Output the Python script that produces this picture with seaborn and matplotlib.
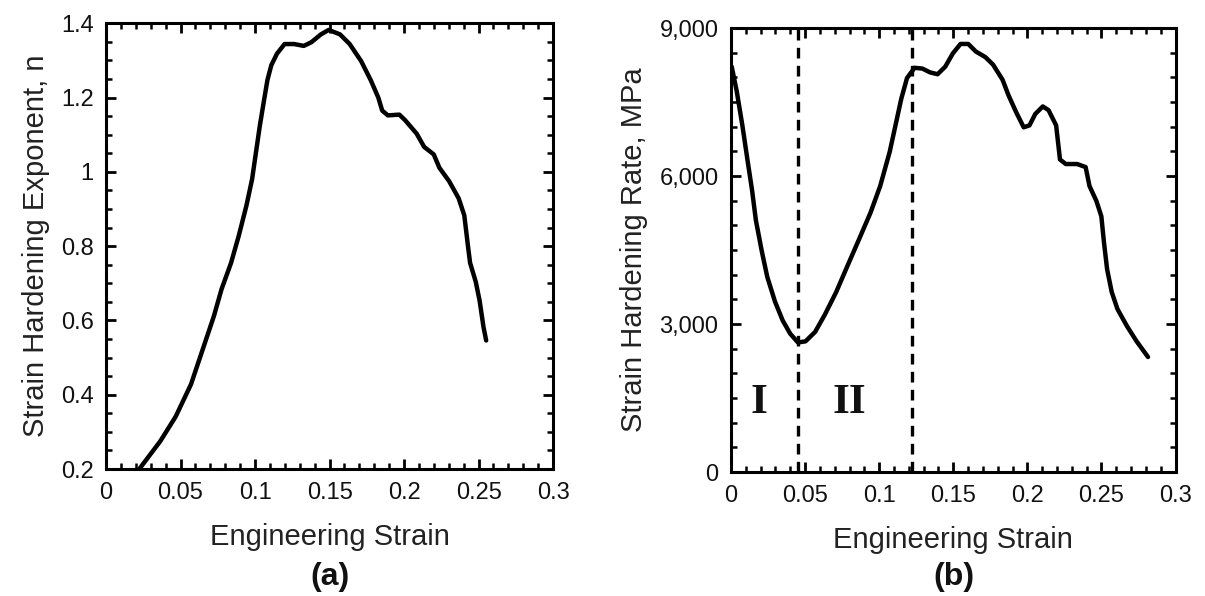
import matplotlib
matplotlib.use("Agg")
import matplotlib.pyplot as plt
from matplotlib.ticker import MultipleLocator
import seaborn as sns
import pandas as pd

# ---- data (a): strain hardening exponent ----
strain_a = [0.0223, 0.0364, 0.0467, 0.057, 0.0647, 0.0724, 0.0775, 0.0839, 0.089, 0.0942,
            0.098, 0.1006, 0.1032, 0.1057, 0.1083, 0.1109, 0.1147, 0.1198, 0.1263, 0.1327,
            0.1378, 0.1442, 0.1494, 0.157, 0.1635, 0.1712, 0.1776, 0.1827, 0.1853, 0.1891,
            0.1968, 0.2007, 0.2084, 0.2135, 0.2199, 0.2237, 0.2302, 0.2366, 0.2404, 0.243,
            0.2443, 0.2481, 0.2507, 0.2533, 0.2551]
n_exp = [0.2, 0.275, 0.341, 0.428, 0.52, 0.612, 0.684, 0.755, 0.827, 0.909,
         0.98, 1.052, 1.124, 1.185, 1.247, 1.287, 1.318, 1.344, 1.344, 1.339,
         1.349, 1.37, 1.382, 1.37, 1.344, 1.298, 1.247, 1.2, 1.165, 1.152,
         1.154, 1.139, 1.103, 1.067, 1.047, 1.011, 0.975, 0.929, 0.883, 0.796,
         0.755, 0.704, 0.653, 0.582, 0.546]

# ---- data (b): strain hardening rate ----
strain_b = [0.0005, 0.0039, 0.0077, 0.0111, 0.0142, 0.0168, 0.0207, 0.0245, 0.0297, 0.0349,
            0.04, 0.0452, 0.0503, 0.0568, 0.0633, 0.071, 0.0787, 0.0865, 0.0942, 0.1007,
            0.1071, 0.111, 0.1149, 0.1188, 0.1239, 0.1291, 0.1343, 0.1394, 0.1446, 0.1497,
            0.1549, 0.1601, 0.1652, 0.1717, 0.1769, 0.1833, 0.1872, 0.1924, 0.1975, 0.2014,
            0.2053, 0.2104, 0.2143, 0.2194, 0.222, 0.2259, 0.2336, 0.2393, 0.2419, 0.2466,
            0.2499, 0.2517, 0.2538, 0.2569, 0.2608, 0.2672, 0.2737, 0.2814]
rate_b = [8217, 7718, 7026, 6335, 5721, 5107, 4492, 3955, 3456, 3072,
          2803, 2626, 2649, 2841, 3187, 3648, 4185, 4723, 5260, 5798,
          6489, 7026, 7564, 7986, 8194, 8178, 8101, 8063, 8217, 8485,
          8677, 8677, 8524, 8409, 8255, 7948, 7641, 7295, 6988, 7026,
          7257, 7410, 7334, 7026, 6335, 6243, 6243, 6181, 5798, 5491,
          5184, 4646, 4108, 3648, 3302, 2957, 2649, 2331]

stage_bounds = [0.045, 0.122]
stage_labels = ["I", "II"]
stage_label_x = [0.019, 0.080]
stage_label_y = 1400

x_ticks = [0, 0.05, 0.1, 0.15, 0.2, 0.25, 0.3]
x_ticklabels = ["0", "0.05", "0.1", "0.15", "0.2", "0.25", "0.3"]
ya_ticks = [0.2, 0.4, 0.6, 0.8, 1.0, 1.2, 1.4]
ya_ticklabels = ["0.2", "0.4", "0.6", "0.8", "1", "1.2", "1.4"]
yb_ticks = [0, 3000, 6000, 9000]
yb_ticklabels = ["0", "3,000", "6,000", "9,000"]

df_a = pd.DataFrame({"strain": strain_a, "n": n_exp})
df_b = pd.DataFrame({"strain": strain_b, "rate": rate_b})

sns.set_style("ticks")
plt.rcParams["font.family"] = ["Liberation Sans", "DejaVu Sans"]

fig = plt.figure(figsize=(12.05, 5.96), dpi=100)
ax_a = fig.add_axes([0.088, 0.213, 0.371, 0.748])
ax_b = fig.add_axes([0.6066, 0.208, 0.369, 0.745])

sns.lineplot(data=df_a, x="strain", y="n", ax=ax_a, color="black", lw=3.2, sort=False,
             solid_joinstyle="round", solid_capstyle="round")
sns.lineplot(data=df_b, x="strain", y="rate", ax=ax_b, color="black", lw=3.2, sort=False,
             solid_joinstyle="round", solid_capstyle="round")

for xb in stage_bounds:
    ax_b.axvline(xb, color="black", lw=2.4, ls=(0, (3.2, 2.2)))
for lab, lx in zip(stage_labels, stage_label_x):
    ax_b.text(lx, stage_label_y, lab, ha="center", va="center", fontsize=31,
              fontweight="bold", family=["Liberation Serif", "DejaVu Serif"], color="#111111")

def style(ax, yticks, ylabels, ylim, yminor, ylabel):
    ax.set_xlim(0, 0.3)
    ax.set_ylim(*ylim)
    ax.set_xticks(x_ticks)
    ax.set_xticklabels(x_ticklabels)
    ax.set_yticks(yticks)
    ax.set_yticklabels(ylabels)
    ax.xaxis.set_minor_locator(MultipleLocator(0.01))
    ax.yaxis.set_minor_locator(MultipleLocator(yminor))
    ax.tick_params(which="both", direction="in", top=True, right=True, color="black")
    ax.tick_params(which="major", length=7, width=2, labelsize=17, pad=9, labelcolor="#111111")
    ax.tick_params(which="minor", length=4, width=1.8)
    for sp in ax.spines.values():
        sp.set_linewidth(2.2)
        sp.set_color("black")
        sp.set_visible(True)
    ax.set_xlabel("Engineering Strain", fontsize=21, color="#222222", labelpad=14)
    ax.set_ylabel(ylabel, fontsize=21, color="#222222", labelpad=8)

style(ax_a, ya_ticks, ya_ticklabels, (0.2, 1.4), 0.05, "Strain Hardening Exponent, n")
style(ax_b, yb_ticks, yb_ticklabels, (0, 9000), 500, "Strain Hardening Rate, MPa")

fig.text(0.274, 0.032, "(a)", ha="center", va="center", fontsize=23, fontweight="bold", color="#111111")
fig.text(0.792, 0.032, "(b)", ha="center", va="center", fontsize=23, fontweight="bold", color="#111111")

fig.savefig("out.png", dpi=100, facecolor="white")
